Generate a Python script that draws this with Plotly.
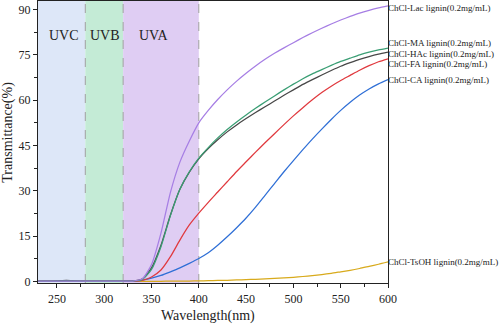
import plotly.graph_objects as go

wavelength = [230, 240, 250, 260, 270, 280, 290, 300, 310, 320, 330, 340, 350, 360, 370, 380,
              390, 400, 410, 420, 430, 440, 450, 460, 470, 480, 490, 500, 510, 520, 530, 540,
              550, 560, 570, 580, 590, 600]

lac = [0.1, 0.1, 0.1, 0.1, 0.1, 0.1, 0.1, 0.1, 0.1, 0.1, 0.15, 0.8, 5.6, 16, 29.5, 39.5,
       46.5, 52.5, 56.6, 60.2, 63.4, 66.3, 68.9, 71.3, 73.5, 75.5, 77.3, 79.0, 80.7, 82.3, 83.8, 85.2,
       86.5, 87.7, 88.8, 89.7, 90.5, 91.2]
ma = [0.1, 0.1, 0.1, 0.1, 0.1, 0.1, 0.1, 0.1, 0.1, 0.1, 0.15, 0.6, 4, 11.5, 21.8, 30.5,
      36.3, 40.8, 44.3, 47.5, 50.3, 52.8, 55.1, 57.3, 59.4, 61.4, 63.4, 65.3, 67.1, 68.7, 70.1, 71.5,
      72.8, 73.9, 75, 75.9, 76.6, 77.2]
hac = [0.1, 0.12, 0.2, 0.4, 0.2, 0.1, 0.1, 0.1, 0.1, 0.1, 0.15, 0.8, 4.5, 12, 22, 30.5,
       36.2, 40.6, 44, 46.9, 49.5, 51.8, 53.9, 55.9, 57.8, 59.7, 61.6, 63.4, 65.2, 66.8, 68.3, 69.8,
       71.2, 72.4, 73.5, 74.4, 75.2, 75.9]
fa = [0.1, 0.1, 0.1, 0.1, 0.1, 0.1, 0.1, 0.1, 0.1, 0.1, 0.12, 0.4, 1.5, 3.8, 8.2, 13.7,
      18.7, 22.6, 26.2, 29.6, 33, 36.4, 39.6, 42.8, 45.9, 48.9, 51.9, 54.8, 57.5, 60.1, 62.5, 64.6,
      66.5, 68.2, 69.9, 71.4, 72.7, 73.7]
ca = [0.1, 0.1, 0.1, 0.1, 0.1, 0.1, 0.1, 0.1, 0.1, 0.1, 0.12, 0.4, 1.1, 2, 3.2, 4.5,
      6.0, 7.6, 9.5, 12, 14.8, 17.8, 21, 24.6, 28.5, 32.4, 36.3, 40, 43.6, 47.1, 50.4, 53.6,
      56.6, 59.3, 61.7, 63.7, 65.4, 66.8]
tsoh = [0.05, 0.05, 0.05, 0.05, 0.05, 0.05, 0.05, 0.05, 0.05, 0.05, 0.05, 0.05, 0.06, 0.08, 0.1, 0.12,
        0.15, 0.2, 0.27, 0.33, 0.4, 0.5, 0.6, 0.72, 0.85, 1, 1.2, 1.4, 1.65, 1.95, 2.3, 2.7,
        3.2, 3.7, 4.3, 5, 5.7, 6.5]

series = [
    ("ChCl-TsOH lignin(0.2mg/mL)", tsoh, "#d8aa1c", 6.6),
    ("ChCl-CA lignin(0.2mg/mL)", ca, "#2f6fd6", 66.7),
    ("ChCl-FA lignin(0.2mg/mL)", fa, "#e0393e", 72.1),
    ("ChCl-HAc lignin(0.2mg/mL)", hac, "#474747", 75.4),
    ("ChCl-MA lignin(0.2mg/mL)", ma, "#3a9e74", 78.9),
    ("ChCl-Lac lignin(0.2mg/mL)", lac, "#a67ee4", 90.4),
]

bands = [("UVC", 230, 280, "#dde7f8", 257.7),
         ("UVB", 280, 320, "#c4ebd6", 301),
         ("UVA", 320, 400, "#dfcdf3", 352)]

FONT = "Liberation Serif, Times New Roman, serif"

fig = go.Figure()
for name, vals, color, ylab in series:
    fig.add_trace(go.Scatter(x=wavelength, y=vals, mode="lines", name=name,
                             line=dict(color=color, width=1.25, shape="spline", smoothing=0.6),
                             showlegend=False))

shapes = []
annotations = []
for label, x0, x1, col, xc in bands:
    shapes.append(dict(type="rect", xref="x", yref="paper", x0=x0, x1=x1, y0=0, y1=1,
                       fillcolor=col, line=dict(width=0), layer="below"))
    annotations.append(dict(x=xc, y=81.5, xref="x", yref="y", text=label, showarrow=False,
                            font=dict(family=FONT, size=14, color="#222")))
for xv in [280, 320, 400]:
    shapes.append(dict(type="line", xref="x", yref="paper", x0=xv, x1=xv, y0=0, y1=1,
                       line=dict(color="#a0a0a0", width=1, dash="dash"), layer="below"))

for name, vals, color, ylab in series:
    annotations.append(dict(x=600, y=ylab, xref="x", yref="y", text=name, showarrow=False,
                            xanchor="left", yanchor="middle", xshift=-2,
                            font=dict(family=FONT, size=9, color="#222")))

annotations.append(dict(x=-0.086, y=0.536, xref="paper", yref="paper", text="Transmittance(%)",
                        textangle=-90, showarrow=False, xanchor="center", yanchor="middle",
                        font=dict(family=FONT, size=14, color="#222")))
annotations.append(dict(x=0.486, y=-0.117, xref="paper", yref="paper", text="Wavelength(nm)",
                        showarrow=False, xanchor="center", yanchor="middle",
                        font=dict(family=FONT, size=14, color="#222")))

fig.update_layout(
    width=500, height=324,
    margin=dict(l=38, r=112, t=1, b=41),
    paper_bgcolor="white", plot_bgcolor="white",
    shapes=shapes, annotations=annotations,
    font=dict(family=FONT, size=12, color="#222"),
    xaxis=dict(range=[230, 600], tickvals=[250, 300, 350, 400, 450, 500, 550, 600],
               ticks="outside", ticklen=4, tickwidth=1, tickcolor="#222",
               showline=True, linecolor="#222", linewidth=1.2, mirror=True,
               showgrid=False, zeroline=False,
               minor=dict(tickvals=[275, 325, 375, 425, 475, 525, 575], ticks="outside",
                          ticklen=2.5, tickcolor="#222"),
               tickfont=dict(family=FONT, size=12, color="#222")),
    yaxis=dict(range=[-0.5, 92.8], tickvals=[0, 15, 30, 45, 60, 75, 90],
               ticks="outside", ticklen=4, tickwidth=1, tickcolor="#222",
               showline=True, linecolor="#222", linewidth=1.2, mirror=True,
               showgrid=False, zeroline=False,
               minor=dict(tickvals=[7.5, 22.5, 37.5, 52.5, 67.5, 82.5], ticks="outside",
                          ticklen=2.5, tickcolor="#222"),
               tickfont=dict(family=FONT, size=12, color="#222")),
)

fig.write_html("out.html")
